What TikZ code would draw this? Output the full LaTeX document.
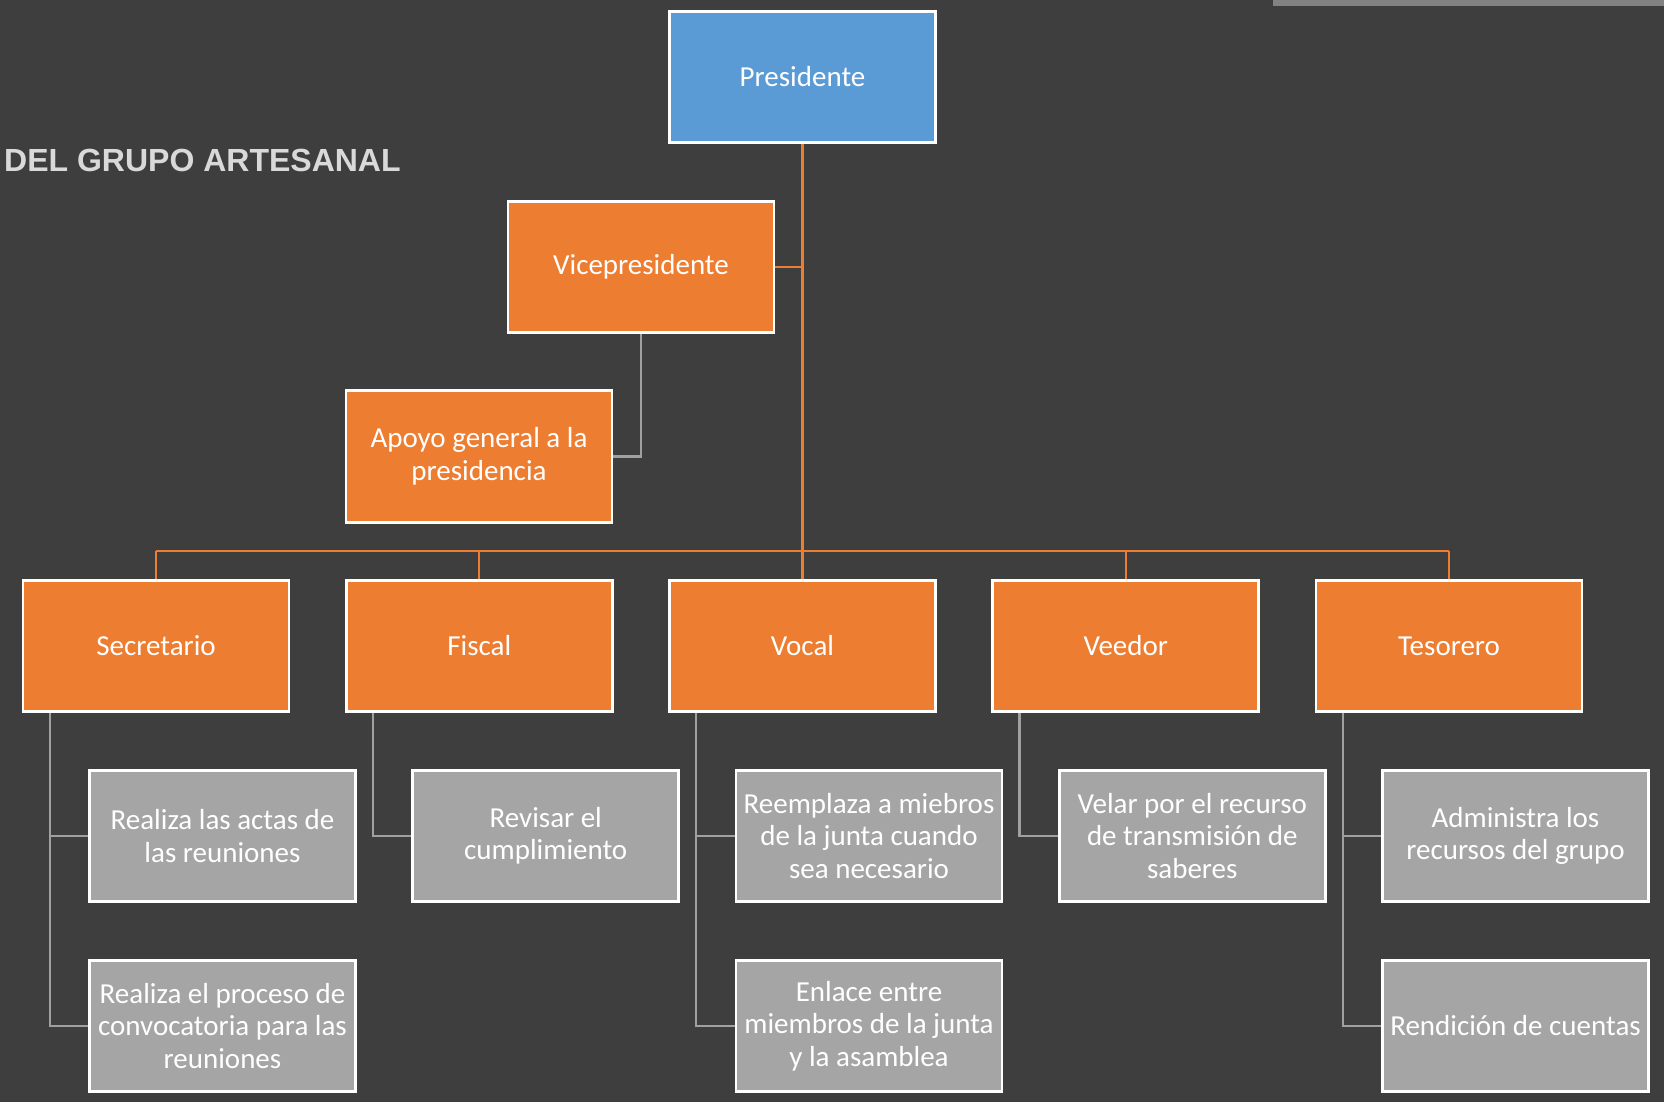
\documentclass[tikz,border=0pt]{standalone}
\usepackage{fontspec}
\setmainfont{Carlito}
\newfontfamily\titlefont{Liberation Sans}
\definecolor{bgc}{RGB}{62,62,62}
\definecolor{orgc}{RGB}{237,125,49}
\definecolor{bluec}{RGB}{91,155,213}
\definecolor{grayc}{RGB}{165,165,165}
\definecolor{linegray}{RGB}{160,160,160}
\definecolor{titlec}{RGB}{217,217,217}
\definecolor{barc}{RGB}{130,130,130}
\tikzset{
  boxbase/.style={draw=white, line width=2.6pt, minimum width=266pt, minimum height=131.5pt,
    inner sep=2pt, align=center, text=white, font=\fontsize{29}{32.5}\selectfont},
  bluebox/.style={boxbase, fill=bluec},
  orgbox/.style={boxbase, fill=orgc},
  graybox/.style={boxbase, fill=grayc},
  orgline/.style={draw=orgc, line width=2.4pt},
  grayline/.style={draw=linegray, line width=2.4pt},
}
\begin{document}
\begin{tikzpicture}[x=1pt,y=-1pt]
\fill[bgc] (0,0) rectangle (1664,1102);
\useasboundingbox (0,0) rectangle (1664,1102);
\fill[barc] (1273,0) rectangle (1664,6);
\node[anchor=base west, inner sep=0pt, text=titlec, font=\titlefont\bfseries\fontsize{32}{36}\selectfont] (title) at (4,172) {DEL GRUPO ARTESANAL};

\node[bluebox] (pres) at (802.5,77) {Presidente};
\node[orgbox] (vice) at (641,267) {Vicepresidente};
\node[orgbox] (apoyo) at (479,456.5) {Apoyo general a la\\presidencia};

\node[orgbox] (sec) at (156,646) {Secretario};
\node[orgbox] (fis) at (479.25,646) {Fiscal};
\node[orgbox] (voc) at (802.5,646) {Vocal};
\node[orgbox] (vee) at (1125.75,646) {Veedor};
\node[orgbox] (tes) at (1449,646) {Tesorero};

\node[graybox] (sec1) at (222.5,836) {Realiza las actas de\\las reuniones};
\node[graybox] (sec2) at (222.5,1026) {Realiza el proceso de\\convocatoria para las\\reuniones};
\node[graybox] (fis1) at (545.75,836) {Revisar el\\cumplimiento};
\node[graybox] (voc1) at (869,836) {Reemplaza a miebros\\de la junta cuando\\sea necesario};
\node[graybox] (voc2) at (869,1026) {Enlace entre\\miembros de la junta\\y la asamblea};
\node[graybox] (vee1) at (1192.25,836) {Velar por el recurso\\de transmisión de\\saberes};
\node[graybox] (tes1) at (1515.5,836) {Administra los\\recursos del grupo};
\node[graybox] (tes2) at (1515.5,1026) {Rendición de cuentas};

% orange connectors
\coordinate (busL) at (156,551);
\coordinate (busR) at (1449,551);
\begin{scope}[on background layer/.style={}]
\end{scope}
\draw[orgline] (pres.south) -- (pres.south |- voc.north);
\draw[orgline] (vice.east) -- (vice.east -| pres.south);
\draw[orgline] (busL) -- (busR);
\foreach \n in {sec,fis,voc,vee,tes}{
  \draw[orgline] (\n.north) -- (\n.north |- busL);
}
% gray connectors
\draw[grayline] (vice.south) |- (apoyo.east);
\draw[grayline] ([xshift=28pt]sec.south west) |- (sec1.west);
\draw[grayline] ([xshift=28pt]sec.south west) |- (sec2.west);
\draw[grayline] ([xshift=28pt]fis.south west) |- (fis1.west);
\draw[grayline] ([xshift=28pt]voc.south west) |- (voc1.west);
\draw[grayline] ([xshift=28pt]voc.south west) |- (voc2.west);
\draw[grayline] ([xshift=28pt]vee.south west) |- (vee1.west);
\draw[grayline] ([xshift=28pt]tes.south west) |- (tes1.west);
\draw[grayline] ([xshift=28pt]tes.south west) |- (tes2.west);
\end{tikzpicture}
\end{document}
